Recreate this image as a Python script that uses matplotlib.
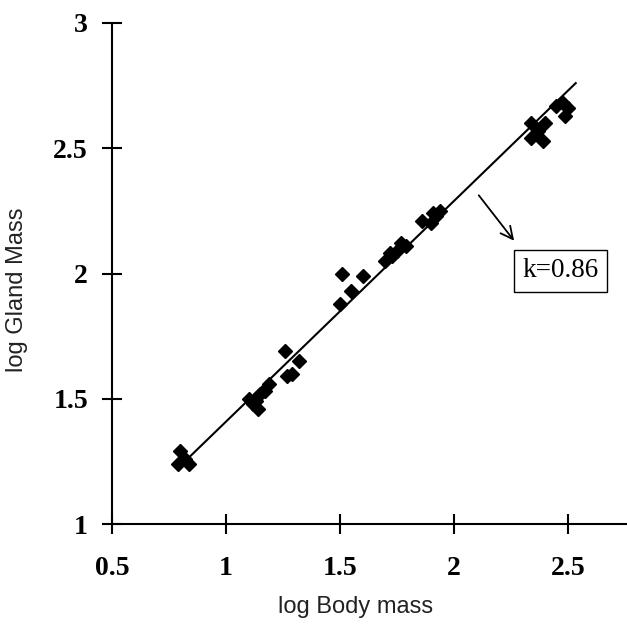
"""Allometry of gland mass against body mass (log-log)"""

import matplotlib
matplotlib.use('Agg')
import matplotlib.pyplot as plt

log_body = [0.80, 0.79, 0.84, 0.82,
            1.10, 1.12, 1.14, 1.13, 1.15, 1.17, 1.19,
            1.26, 1.32, 1.29, 1.27,
            1.50, 1.51, 1.55, 1.60,
            1.70, 1.72, 1.73, 1.75, 1.77, 1.79,
            1.86, 1.90, 1.91, 1.92, 1.94,
            2.34, 2.40, 2.34, 2.39, 2.37,
            2.45, 2.48, 2.50, 2.49]
log_gland = [1.29, 1.24, 1.24, 1.26,
             1.50, 1.48, 1.46, 1.49, 1.52, 1.53, 1.56,
             1.69, 1.65, 1.60, 1.59,
             1.88, 2.00, 1.93, 1.99,
             2.05, 2.08, 2.07, 2.09, 2.12, 2.11,
             2.21, 2.20, 2.24, 2.23, 2.25,
             2.60, 2.60, 2.54, 2.53, 2.57,
             2.67, 2.68, 2.66, 2.63]

# Regression line end points
fit_x = [0.82, 2.535]
fit_y = [1.25, 2.76]

# Slope annotation
slope_label = 'k=0.86'
arrow_tail = (2.102, 2.321)
arrow_head = (2.272, 2.122)
label_pos = (2.469, 2.01)

x_ticks = [0.5, 1, 1.5, 2, 2.5]
y_ticks = [1, 1.5, 2, 2.5, 3]

# Initialise figure
fig = plt.figure(figsize=(6.27, 6.25), dpi=100)
ax = fig.add_axes([112 / 627, 101 / 625, 515 / 627, 501 / 625])

# Fit line and data
ax.plot(fit_x, fit_y, color='k', linewidth=1.5, zorder=2)
ax.plot(log_body, log_gland, linestyle='none', marker='D', markersize=7.6, color='k', zorder=3)

# Arrow and slope label
ax.annotate('', xy=arrow_head, xytext=arrow_tail,
            arrowprops=dict(arrowstyle='->', color='k', lw=1.3, mutation_scale=22))
ax.text(label_pos[0], label_pos[1], slope_label, ha='center', va='center', fontsize=19.5,
        family='Liberation Serif',
        bbox=dict(boxstyle='square,pad=0.3', fc='white', ec='k', lw=1))

# Axes formatting
ax.set_xlim(0.5, 2.76)
ax.set_ylim(1, 3)
ax.set_xticks(x_ticks)
ax.set_yticks(y_ticks)
ax.set_xticklabels(['0.5', '1', '1.5', '2', '2.5'])
ax.set_yticklabels(['1', '1.5', '2', '2.5', '3'])
for lab in ax.get_xticklabels() + ax.get_yticklabels():
    lab.set_family('Liberation Serif')
    lab.set_fontweight('bold')
    lab.set_fontsize(20)
ax.tick_params(axis='both', direction='inout', length=14.5, width=1.5, color='k')
ax.tick_params(axis='x', pad=16)
ax.tick_params(axis='y', pad=10)

for side in ['top', 'right']:
    ax.spines[side].set_visible(False)
for side in ['left', 'bottom']:
    ax.spines[side].set_linewidth(1.5)
ax.spines['left'].set_bounds(1, 3)

ax.set_xlabel('log Body mass', family='Liberation Sans', fontsize=17, va='center', color='#222222')
ax.set_ylabel('log Gland Mass', family='Liberation Sans', fontsize=17, va='center', color='#222222')
ax.xaxis.set_label_coords(0.472, -0.166)
ax.yaxis.set_label_coords(-0.1845, 0.467)

fig.savefig('out.png', dpi=100)
